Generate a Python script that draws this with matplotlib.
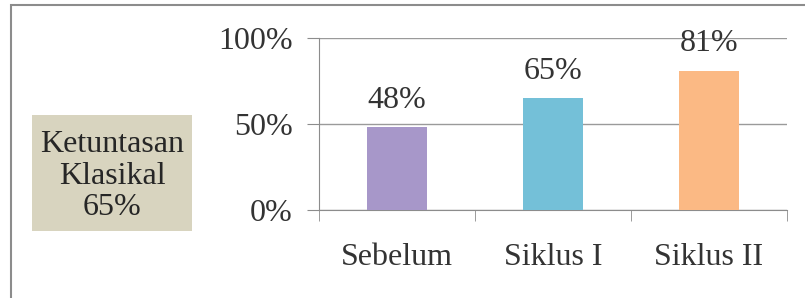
import matplotlib.pyplot as plt
from matplotlib.patches import Rectangle

# data
categories = ['Sebelum', 'Siklus I', 'Siklus II']
values = [48, 65, 81]
labels = ['48%', '65%', '81%']
bar_colors = ['#a797c9', '#74c0d8', '#fbb984']
yticks = [0, 50, 100]
ytick_labels = ['0%', '50%', '100%']
note = 'Ketuntasan\nKlasikal\n65%'

plt.rcParams['font.family'] = ['Liberation Serif', 'DejaVu Serif']
W, H = 805, 298
fs = 23
fig = plt.figure(figsize=(W / 100, H / 100), dpi=100)

# outer frame
fig.patches.append(Rectangle((11 / W, -0.1), 1.2, (H - 5) / H + 0.1, transform=fig.transFigure,
                             fill=False, edgecolor='#8c8c8c', linewidth=1.5))

# note box
fig.patches.append(Rectangle((32 / W, (H - 231) / H), 160 / W, 116 / H, transform=fig.transFigure,
                             facecolor='#d8d4bf', edgecolor='none'))
fig.text(112 / W, (H - 176) / H, note, ha='center', va='center', fontsize=fs,
         linespacing=1.13, color='#262626')

ax = fig.add_axes([319 / W, (H - 210) / H, (787 - 319) / W, (210 - 38) / H])
x = range(len(categories))
bars = ax.bar(x, values, width=0.38, color=bar_colors, zorder=3)
for b, lab in zip(bars, labels):
    ax.annotate(lab, (b.get_x() + b.get_width() / 2, b.get_height()), xytext=(0, 9),
                textcoords='offset points', ha='center', va='bottom', fontsize=fs, color='#333333')

ax.set_xlim(-0.5, 2.5)
ax.set_ylim(0, 100)
ax.set_yticks(yticks)
ax.set_yticklabels(ytick_labels)
ax.yaxis.grid(True, color='#9a9a9a', linewidth=1, zorder=0)
ax.set_xticks(list(x))
ax.set_xticklabels(categories)
ax.set_xticks([-0.5, 0.5, 1.5, 2.5], minor=True)
ax.tick_params(axis='x', which='major', length=0, pad=24, labelsize=fs, labelcolor='#333333')
ax.tick_params(axis='x', which='minor', length=8, color='#8c8c8c', direction='out')
ax.tick_params(axis='y', length=9, color='#8c8c8c', pad=10, labelsize=fs, labelcolor='#333333')
for s in ['top', 'right']:
    ax.spines[s].set_visible(False)
for s in ['left', 'bottom']:
    ax.spines[s].set_color('#8c8c8c')

fig.savefig('out.png', dpi=100)
